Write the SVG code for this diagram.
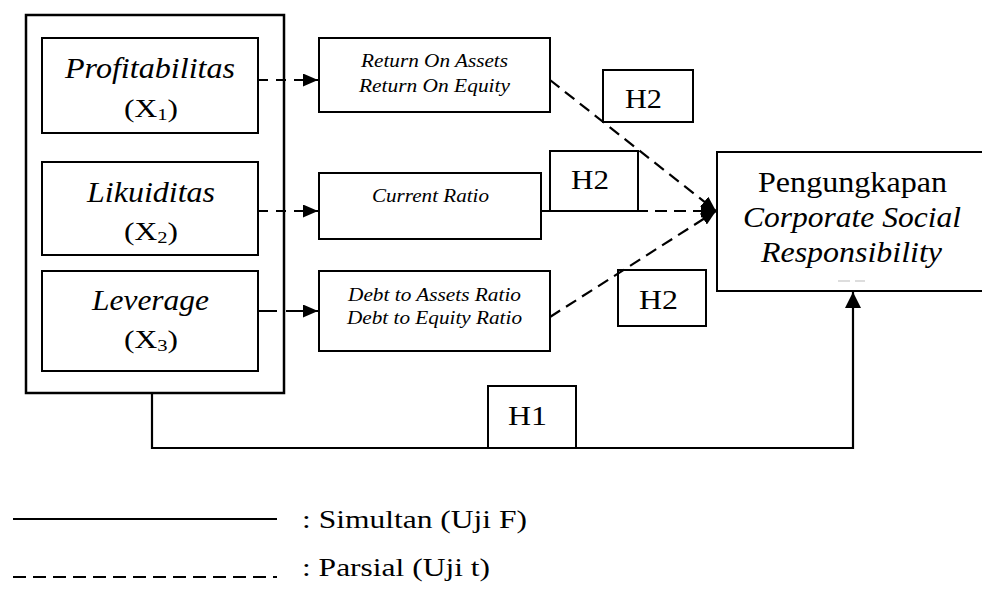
<svg xmlns="http://www.w3.org/2000/svg" width="982" height="592" viewBox="0 0 982 592" font-family="'Liberation Serif', 'DejaVu Serif', serif">
<style>
text{font-family:'Liberation Serif','Times New Roman',serif;fill:#000}
.big{font-size:29px}
.mid{font-size:26px}
.hx{font-size:27px}
.sm{font-size:18.5px}
.it{font-style:italic}
.box{fill:#fff;stroke:#000;stroke-width:2}
.hbox{fill:none;stroke:#000;stroke-width:2}
.dash{fill:none;stroke:#000;stroke-width:2.2;stroke-dasharray:12 7}
.sdash{fill:none;stroke:#000;stroke-width:2.2;stroke-dasharray:10 8}
.solid{fill:none;stroke:#000;stroke-width:2.2}
</style>
<defs>
<marker id="ah" viewBox="0 0 15 13" refX="15" refY="6.5" markerWidth="15" markerHeight="13" markerUnits="userSpaceOnUse" orient="auto">
<path d="M0,0 L15,6.5 L0,13 Z" fill="#000"/>
</marker>
<marker id="ahb" viewBox="0 0 16 16" refX="16" refY="8" markerWidth="16" markerHeight="16" markerUnits="userSpaceOnUse" orient="auto">
<path d="M0,0 L16,8 L0,16 Z" fill="#000"/>
</marker>
</defs>

<g id="independent">
<rect x="26" y="15" width="258" height="378" fill="#fff" stroke="#000" stroke-width="2.5"/>
</g>
<g id="profitabilitas">
<rect class="box" x="42" y="38" width="216" height="95"/>
<text class="big it" x="65" y="78" textLength="170" lengthAdjust="spacingAndGlyphs">Profitabilitas</text>
<text class="mid" x="124" y="117" textLength="54" lengthAdjust="spacingAndGlyphs">(X<tspan font-size="17" dy="3">1</tspan><tspan dy="-3">)</tspan></text>
</g>
<g id="likuiditas">
<rect class="box" x="42" y="162" width="216" height="93"/>
<text class="big it" x="87" y="202" textLength="128" lengthAdjust="spacingAndGlyphs">Likuiditas</text>
<text class="mid" x="124" y="240" textLength="54" lengthAdjust="spacingAndGlyphs">(X<tspan font-size="17" dy="3">2</tspan><tspan dy="-3">)</tspan></text>
</g>
<g id="leverage">
<rect class="box" x="42" y="271" width="216" height="100"/>
<text class="big it" x="92" y="310" textLength="117" lengthAdjust="spacingAndGlyphs">Leverage</text>
<text class="mid" x="124" y="348" textLength="54" lengthAdjust="spacingAndGlyphs">(X<tspan font-size="17" dy="3">3</tspan><tspan dy="-3">)</tspan></text>
</g>

<g id="roa-roe">
<rect class="box" x="319" y="38" width="231" height="74"/>
<text class="sm it" x="361" y="67" textLength="147" lengthAdjust="spacingAndGlyphs">Return On Assets</text>
<text class="sm it" x="359" y="92" textLength="151" lengthAdjust="spacingAndGlyphs">Return On Equity</text>
</g>
<g id="current-ratio">
<rect class="box" x="319" y="173" width="222" height="66"/>
<text class="sm it" x="372" y="202" textLength="117" lengthAdjust="spacingAndGlyphs">Current Ratio</text>
</g>
<g id="der-dar">
<rect class="box" x="319" y="271" width="231" height="80"/>
<text class="sm it" x="348" y="301" textLength="173" lengthAdjust="spacingAndGlyphs">Debt to Assets Ratio</text>
<text class="sm it" x="347" y="324" textLength="175" lengthAdjust="spacingAndGlyphs">Debt to Equity Ratio</text>
</g>

<g id="csr">
<rect class="box" x="717" y="152" width="272" height="139"/>
<text class="big" x="758" y="192" textLength="189" lengthAdjust="spacingAndGlyphs">Pengungkapan</text>
<text class="big it" x="743" y="227" textLength="218" lengthAdjust="spacingAndGlyphs">Corporate Social</text>
<text class="big it" x="761" y="262" textLength="181" lengthAdjust="spacingAndGlyphs">Responsibility</text>
<path d="M838,281 H850 M855,281 H865" stroke="#bbb" stroke-width="1"/>
</g>

<g id="h2-a">
<rect class="hbox" x="603" y="70" width="90" height="52"/>
<text class="hx" x="625" y="108" textLength="37" lengthAdjust="spacingAndGlyphs">H2</text>
</g>
<g id="h2-b">
<rect class="hbox" x="550" y="151" width="88" height="60"/>
<text class="hx" x="571" y="189" textLength="38" lengthAdjust="spacingAndGlyphs">H2</text>
</g>
<g id="h2-c">
<rect class="hbox" x="618" y="270" width="88" height="56"/>
<text class="hx" x="639" y="309" textLength="39" lengthAdjust="spacingAndGlyphs">H2</text>
</g>
<g id="h1">
<rect class="hbox" x="488" y="386" width="88" height="62"/>
<text class="hx" x="508" y="425" textLength="39" lengthAdjust="spacingAndGlyphs">H1</text>
</g>

<g id="connectors">
<line class="sdash" x1="258" y1="80" x2="318" y2="80" marker-end="url(#ah)"/>
<line class="sdash" x1="258" y1="211" x2="318" y2="211" marker-end="url(#ah)"/>
<line class="solid" x1="258" y1="311" x2="318" y2="311" stroke-dasharray="19 9" marker-end="url(#ah)"/>
<line class="dash" x1="550" y1="80" x2="716" y2="211" marker-end="url(#ah)"/>
<line class="dash" x1="541" y1="211" x2="716" y2="211" marker-end="url(#ah)"/>
<line class="dash" x1="550" y1="317" x2="716" y2="211" marker-end="url(#ah)"/>
<path class="solid" d="M152,393 V448 H853 V292" marker-end="url(#ahb)"/>
</g>

<g id="legend">
<line class="solid" x1="13" y1="519" x2="277" y2="519"/>
<text class="mid" x="302" y="528" textLength="225" lengthAdjust="spacingAndGlyphs">: Simultan (Uji F)</text>
<line class="solid" x1="13" y1="577" x2="277" y2="577" stroke-dasharray="13 7"/>
<text class="mid" x="302" y="576" textLength="188" lengthAdjust="spacingAndGlyphs">: Parsial (Uji t)</text>
</g>
</svg>
